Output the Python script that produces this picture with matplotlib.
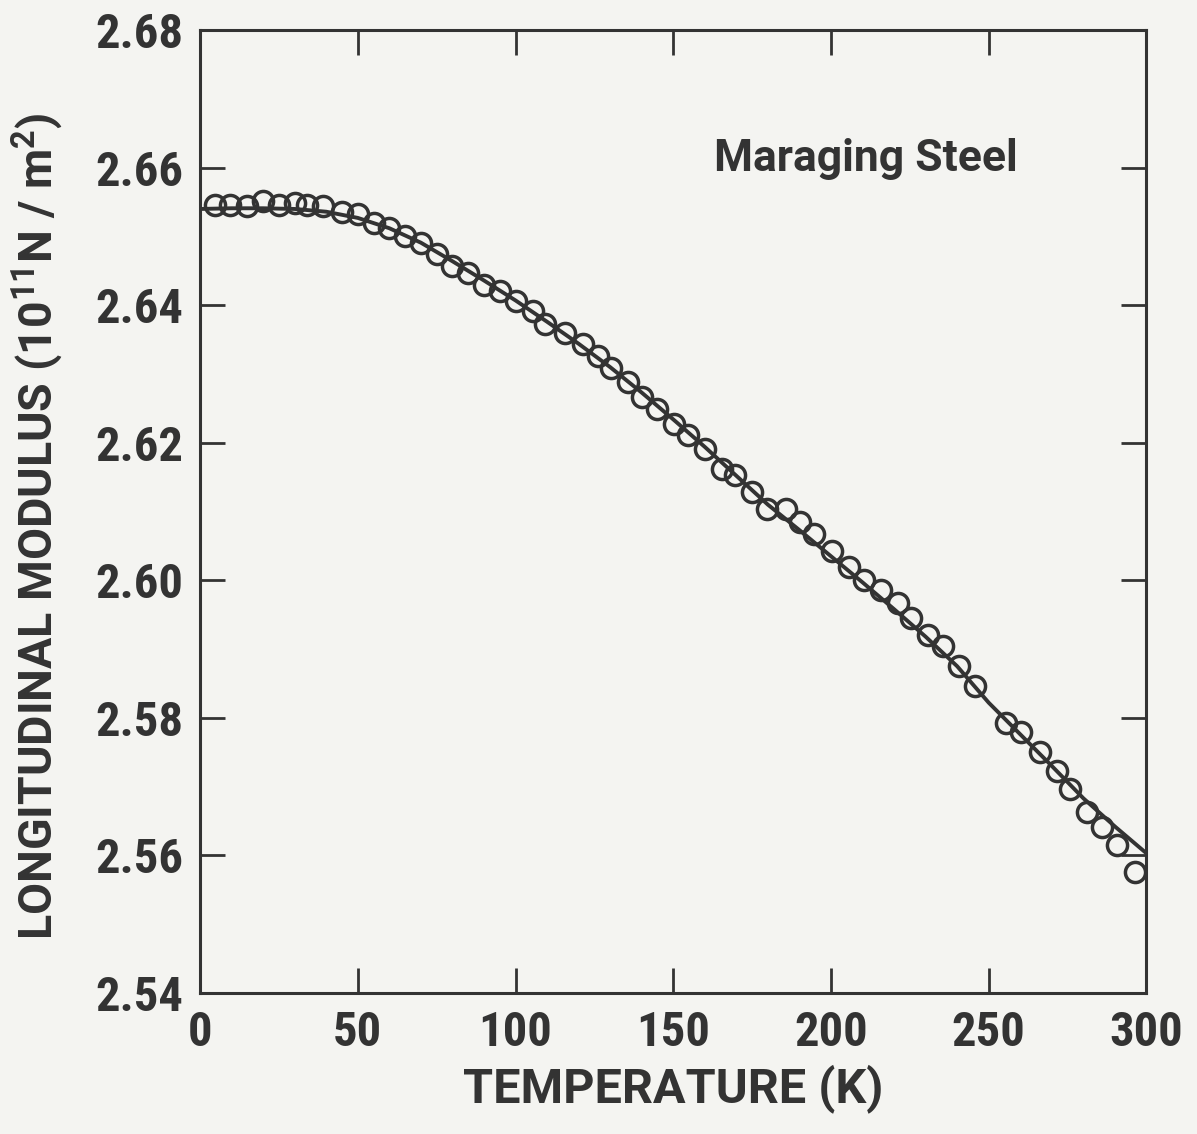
import matplotlib
matplotlib.use("Agg")
import matplotlib.pyplot as plt

# measured points (temperature K, modulus 1e11 N/m^2)
temp_pts = [4.8, 9.5, 15, 20, 25, 30, 34, 39, 45, 50, 55, 60, 65, 70, 75, 80, 85,
            90, 95, 100, 105.5, 109.2, 115.6, 121.4, 126.2, 130.4, 135.7, 140.0,
            144.8, 150.1, 154.8, 160.1, 165.4, 169.7, 175.0, 179.7, 185.6, 190.3,
            194.6, 200.4, 205.7, 210.5, 215.8, 221.1, 225.3, 230.6, 235.4, 240.7,
            245.5, 255.6, 260.3, 266.2, 271.5, 275.7, 281.0, 285.8, 290.6, 296.4]
modulus_pts = [2.6546, 2.6546, 2.6544, 2.6551, 2.6546, 2.6548, 2.6546, 2.6544,
               2.6536, 2.6532, 2.6519, 2.6512, 2.6500, 2.6490, 2.6474, 2.6457,
               2.6447, 2.6430, 2.6420, 2.6406, 2.6392, 2.6372, 2.6360, 2.6343,
               2.6326, 2.6309, 2.6288, 2.6266, 2.6249, 2.6228, 2.6211, 2.6191,
               2.6162, 2.6153, 2.6128, 2.6104, 2.6104, 2.6085, 2.6068, 2.6042,
               2.6020, 2.6001, 2.5986, 2.5967, 2.5945, 2.5921, 2.5904, 2.5875,
               2.5846, 2.5793, 2.5779, 2.5750, 2.5723, 2.5697, 2.5663, 2.5641,
               2.5615, 2.5576]

# fitted curve
temp_fit = [0, 10, 20, 30, 40, 50, 60, 70, 80, 90, 100, 110, 120, 130, 140, 150,
            160, 170, 180, 190, 200, 210, 220, 230, 240, 250, 260, 270, 280, 290, 300]
modulus_fit = [2.6540, 2.6541, 2.6541, 2.6540, 2.6536, 2.6527, 2.6512, 2.6491,
               2.6464, 2.6436, 2.6407, 2.6376, 2.6344, 2.6310, 2.6273, 2.6234,
               2.6194, 2.6152, 2.6110, 2.6073, 2.6035, 2.5997, 2.5958, 2.5918,
               2.5875, 2.5822, 2.5776, 2.5730, 2.5683, 2.5642, 2.5603]

x_ticks = [0, 50, 100, 150, 200, 250, 300]
y_ticks = [2.54, 2.56, 2.58, 2.60, 2.62, 2.64, 2.66, 2.68]

INK = "#333333"
BG = "#f4f4f1"
NARROW = ["Roboto Condensed", "DejaVu Sans"]
WIDE = ["Roboto", "DejaVu Sans"]

plt.rcParams["mathtext.fontset"] = "custom"
plt.rcParams["mathtext.rm"] = "Roboto:bold"
plt.rcParams["mathtext.bf"] = "Roboto:bold"

fig = plt.figure(figsize=(11.97, 11.34), dpi=100, facecolor=BG)
ax = fig.add_axes([0.1671, 0.1244, 0.7907, 0.849])
ax.set_facecolor(BG)

ax.plot(temp_fit, modulus_fit, color=INK, lw=2.8, zorder=2)
ax.plot(temp_pts, modulus_pts, "o", ms=14.5, mfc="none", mec=INK, mew=2.5, zorder=3)

ax.set_xlim(0, 300)
ax.set_ylim(2.54, 2.68)
ax.set_xticks(x_ticks)
ax.set_yticks(y_ticks)
ax.set_xticklabels([str(v) for v in x_ticks], family=NARROW, fontweight="bold",
                   fontsize=35, color=INK)
ax.set_yticklabels([f"{v:.2f}" for v in y_ticks], family=NARROW, fontweight="bold",
                   fontsize=35, color=INK)
ax.tick_params(direction="in", length=18, width=2, color=INK,
               top=True, right=True)
ax.tick_params(axis="x", pad=12)
ax.tick_params(axis="y", pad=12)
for s in ax.spines.values():
    s.set_color(INK)
    s.set_linewidth(2.2)

ax.set_xlabel("TEMPERATURE (K)", family=WIDE, fontweight="bold", fontsize=35,
              color=INK, labelpad=6)
ax.set_ylabel(r"LONGITUDINAL MODULUS (10$^{11}$N / m$^{2}$)",
              family=WIDE, fontweight="bold", fontsize=33.5, color=INK)
ax.yaxis.set_label_coords(-0.142, 0.485)

ax.text(0.864, 0.866, "Maraging Steel", transform=ax.transAxes, ha="right",
        va="center", family=WIDE, fontweight="bold", fontsize=32, color=INK)

fig.savefig("out.png", dpi=100, facecolor=BG)
